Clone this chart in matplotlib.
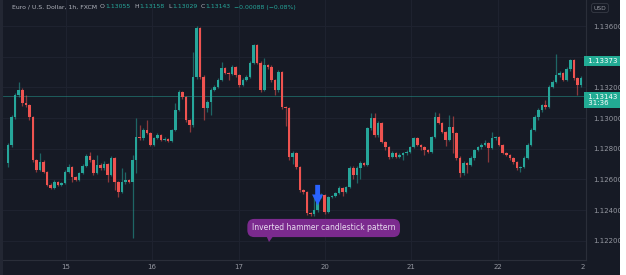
import matplotlib
matplotlib.use('Agg')
import matplotlib.pyplot as plt
from matplotlib.patches import Rectangle, Polygon
import matplotlib.transforms as mtransforms
import numpy as np

# EUR/USD 1h candles
opens = [1.12708, 1.12825, 1.13007, 1.13150, 1.13183, 1.13099, 1.13085, 1.13007, 1.12727, 1.12662,
         1.12714, 1.12649, 1.12564, 1.12545, 1.12584, 1.12564, 1.12577, 1.12649, 1.12681, 1.12616,
         1.12597, 1.12642, 1.12688, 1.12753, 1.12727, 1.12642, 1.12694, 1.12675, 1.12701, 1.12629,
         1.12740, 1.12584, 1.12519, 1.12584, 1.12597, 1.12584, 1.12727, 1.12877, 1.12870, 1.12922,
         1.12903, 1.12825, 1.12870, 1.12890, 1.12857, 1.12864, 1.12851, 1.12922, 1.13053, 1.13170,
         1.13137, 1.12988, 1.12955, 1.13268, 1.13587, 1.13268, 1.13065, 1.13105, 1.13183, 1.13203,
         1.13248, 1.13326, 1.13294, 1.13287, 1.13333, 1.13281, 1.13216, 1.13248, 1.13268, 1.13359,
         1.13476, 1.13359, 1.13183, 1.13346, 1.13333, 1.13248, 1.13183, 1.13300, 1.13072, 1.13065,
         1.12747, 1.12773, 1.12681, 1.12532, 1.12519, 1.12381, 1.12375, 1.12401, 1.12486, 1.12499,
         1.12388, 1.12486, 1.12493, 1.12512, 1.12545, 1.12519, 1.12551, 1.12675, 1.12629, 1.12675,
         1.12708, 1.12694, 1.12935, 1.13001, 1.12890, 1.12968, 1.12844, 1.12812, 1.12747, 1.12773,
         1.12747, 1.12760, 1.12773, 1.12779, 1.12812, 1.12870, 1.12825, 1.12812, 1.12792, 1.12779,
         1.12877, 1.13007, 1.12968, 1.12909, 1.12857, 1.12942, 1.12903, 1.12740, 1.12642, 1.12708,
         1.12694, 1.12740, 1.12792, 1.12812, 1.12825, 1.12838, 1.12805, 1.12870, 1.12875, 1.12825,
         1.12773, 1.12760, 1.12740, 1.12714, 1.12675, 1.12681, 1.12740, 1.12825, 1.12922, 1.13007,
         1.13053, 1.13085, 1.13072, 1.13203, 1.13235, 1.13281, 1.13294, 1.13248, 1.13320, 1.13379,
         1.13261, 1.13216]
closes = [1.12825, 1.13007, 1.13150, 1.13183, 1.13099, 1.13085, 1.13007, 1.12727, 1.12662, 1.12714,
          1.12649, 1.12564, 1.12545, 1.12584, 1.12564, 1.12577, 1.12649, 1.12681, 1.12616, 1.12597,
          1.12642, 1.12688, 1.12753, 1.12727, 1.12642, 1.12694, 1.12675, 1.12701, 1.12629, 1.12740,
          1.12584, 1.12519, 1.12584, 1.12597, 1.12584, 1.12727, 1.12877, 1.12870, 1.12922, 1.12903,
          1.12825, 1.12870, 1.12890, 1.12857, 1.12864, 1.12851, 1.12922, 1.13053, 1.13170, 1.13137,
          1.12988, 1.12955, 1.13268, 1.13587, 1.13268, 1.13065, 1.13105, 1.13183, 1.13203, 1.13248,
          1.13326, 1.13294, 1.13287, 1.13333, 1.13281, 1.13216, 1.13248, 1.13268, 1.13359, 1.13476,
          1.13359, 1.13183, 1.13346, 1.13333, 1.13248, 1.13183, 1.13300, 1.13072, 1.13065, 1.12747,
          1.12773, 1.12681, 1.12532, 1.12519, 1.12381, 1.12375, 1.12401, 1.12486, 1.12499, 1.12388,
          1.12486, 1.12493, 1.12512, 1.12545, 1.12519, 1.12551, 1.12675, 1.12629, 1.12675, 1.12708,
          1.12694, 1.12935, 1.13001, 1.12890, 1.12968, 1.12844, 1.12812, 1.12747, 1.12773, 1.12747,
          1.12760, 1.12773, 1.12779, 1.12812, 1.12870, 1.12825, 1.12812, 1.12792, 1.12779, 1.12877,
          1.13007, 1.12968, 1.12909, 1.12857, 1.12942, 1.12903, 1.12740, 1.12642, 1.12708, 1.12694,
          1.12740, 1.12792, 1.12812, 1.12825, 1.12838, 1.12805, 1.12870, 1.12875, 1.12825, 1.12773,
          1.12760, 1.12740, 1.12714, 1.12675, 1.12681, 1.12740, 1.12825, 1.12922, 1.13007, 1.13053,
          1.13085, 1.13072, 1.13203, 1.13235, 1.13281, 1.13294, 1.13248, 1.13320, 1.13379, 1.13261,
          1.13216, 1.13261]
highs = [1.12840, 1.13020, 1.13165, 1.13235, 1.13195, 1.13150, 1.13095, 1.13015, 1.12735, 1.12773,
         1.12725, 1.12655, 1.12575, 1.12595, 1.12592, 1.12585, 1.12660, 1.12700, 1.12690, 1.12625,
         1.12650, 1.12700, 1.12766, 1.12779, 1.12735, 1.12760, 1.12705, 1.12720, 1.12710, 1.12753,
         1.12748, 1.12590, 1.12675, 1.12650, 1.12605, 1.12760, 1.13001, 1.12955, 1.12935, 1.12988,
         1.12910, 1.12880, 1.12900, 1.12898, 1.12875, 1.12870, 1.12930, 1.13099, 1.13180, 1.13178,
         1.13145, 1.12995, 1.13431, 1.13600, 1.13595, 1.13280, 1.13115, 1.13195, 1.13215, 1.13260,
         1.13366, 1.13335, 1.13300, 1.13345, 1.13340, 1.13290, 1.13260, 1.13280, 1.13370, 1.13485,
         1.13484, 1.13370, 1.13392, 1.13355, 1.13345, 1.13255, 1.13315, 1.13310, 1.13080, 1.13075,
         1.12785, 1.12780, 1.12690, 1.12540, 1.12525, 1.12390, 1.12499, 1.12495, 1.12510, 1.12505,
         1.12495, 1.12500, 1.12520, 1.12555, 1.12552, 1.12560, 1.12690, 1.12685, 1.12685, 1.12720,
         1.12715, 1.12945, 1.13033, 1.13033, 1.12980, 1.12975, 1.12850, 1.12820, 1.12785, 1.12780,
         1.12770, 1.12782, 1.12790, 1.12820, 1.12880, 1.12878, 1.12832, 1.12820, 1.12800, 1.12885,
         1.13040, 1.13033, 1.12975, 1.12915, 1.13020, 1.13014, 1.12910, 1.12750, 1.12720, 1.12715,
         1.12750, 1.12800, 1.12820, 1.12835, 1.12860, 1.12845, 1.12909, 1.12885, 1.12882, 1.12832,
         1.12780, 1.12768, 1.12748, 1.12720, 1.12690, 1.12750, 1.12835, 1.12935, 1.13020, 1.13065,
         1.13095, 1.13118, 1.13215, 1.13245, 1.13418, 1.13305, 1.13300, 1.13330, 1.13385, 1.13385,
         1.13270, 1.13275]
lows = [1.12680, 1.12810, 1.12995, 1.13140, 1.13080, 1.13070, 1.12990, 1.12715, 1.12649, 1.12655,
        1.12640, 1.12555, 1.12535, 1.12538, 1.12555, 1.12558, 1.12570, 1.12640, 1.12584, 1.12588,
        1.12590, 1.12635, 1.12680, 1.12715, 1.12630, 1.12635, 1.12665, 1.12660, 1.12584, 1.12620,
        1.12532, 1.12486, 1.12510, 1.12570, 1.12575, 1.12219, 1.12642, 1.12855, 1.12860, 1.12895,
        1.12815, 1.12818, 1.12862, 1.12848, 1.12850, 1.12843, 1.12845, 1.12915, 1.13045, 1.13125,
        1.12975, 1.12909, 1.12945, 1.13255, 1.13255, 1.12988, 1.13040, 1.13020, 1.13175, 1.13195,
        1.13240, 1.13285, 1.13250, 1.13280, 1.13270, 1.13205, 1.13208, 1.13240, 1.13260, 1.13350,
        1.13350, 1.13170, 1.13175, 1.13320, 1.13235, 1.13150, 1.13170, 1.13060, 1.12950, 1.12727,
        1.12700, 1.12670, 1.12520, 1.12505, 1.12369, 1.12362, 1.12365, 1.12390, 1.12478, 1.12378,
        1.12380, 1.12478, 1.12485, 1.12505, 1.12490, 1.12510, 1.12545, 1.12600, 1.12577, 1.12600,
        1.12685, 1.12688, 1.12925, 1.12880, 1.12880, 1.12835, 1.12790, 1.12735, 1.12740, 1.12738,
        1.12740, 1.12730, 1.12760, 1.12770, 1.12805, 1.12815, 1.12790, 1.12760, 1.12770, 1.12770,
        1.12870, 1.12960, 1.12900, 1.12820, 1.12850, 1.12773, 1.12730, 1.12616, 1.12630, 1.12640,
        1.12685, 1.12730, 1.12785, 1.12800, 1.12815, 1.12714, 1.12798, 1.12860, 1.12815, 1.12765,
        1.12750, 1.12730, 1.12700, 1.12660, 1.12649, 1.12672, 1.12732, 1.12815, 1.12915, 1.12990,
        1.13040, 1.13060, 1.13065, 1.13195, 1.13228, 1.13270, 1.13240, 1.13240, 1.13310, 1.13250,
        1.13150, 1.13205]

day_labels = ['15', '16', '17', '20', '21', '22', '2']
price_ticks = [1.122, 1.124, 1.126, 1.128, 1.130, 1.132, 1.134, 1.136]
last_price = 1.13143
marker_price = 1.13373
hammer_idx = 86

BG = '#161a25'
GRID = '#1f2330'
UP = '#26a69a'
DOWN = '#ef5350'
TXT = '#9598a1'

W, H = 626, 275
fig = plt.figure(figsize=(W / 100, H / 100), dpi=100)
fig.patch.set_facecolor(BG)
fig.patches.append(Rectangle((620 / W, 0), 6 / W, 1, transform=fig.transFigure,
                             facecolor='white', edgecolor='none', zorder=10))
fig.patches.append(Rectangle((0, 0), 3 / W, 1, transform=fig.transFigure,
                             facecolor='#232733', edgecolor='none'))

ax = fig.add_axes([3 / W, 15 / H, 583 / W, 260 / H])
ax.set_facecolor(BG)

n = len(closes)
x = np.arange(n)
step = 573 / (n - 1)  # px per candle
ax.set_xlim(-5 / step, 578 / step)
ax.set_ylim(1.120755, 1.137694)

o = np.array(opens); c = np.array(closes)
hi = np.array(highs); lo = np.array(lows)
up = c >= o
cols = np.where(up, UP, DOWN)

ax.vlines(x, lo, hi, colors=cols, linewidth=0.9, alpha=0.55, zorder=3)
body_lo = np.minimum(o, c)
body_h = np.maximum(np.abs(c - o), 0.00003)
ax.bar(x, body_h, bottom=body_lo, width=0.72, color=cols, linewidth=0, zorder=4)

# grid
for p in price_ticks:
    ax.axhline(p, color=GRID, linewidth=0.7, zorder=1)
day_px = [66, 152, 239, 325, 411, 498, 583]
day_pos = [(d - 8) / step for d in day_px]
for d in day_pos[:-1]:
    ax.axvline(d, color=GRID, linewidth=0.7, zorder=1)

ax.axhline(last_price, color=UP, linewidth=0.6, alpha=0.55, zorder=2)

for s in ['top', 'left']:
    ax.spines[s].set_visible(False)
for s in ['right', 'bottom']:
    ax.spines[s].set_color('#2a2e39')
    ax.spines[s].set_linewidth(0.8)

ax.yaxis.tick_right()
ax.set_yticks(price_ticks)
# 1.13400 sits under the price tag
ax.set_yticklabels(['' if abs(p - 1.134) < 1e-9 else f'{p:.5f}' for p in price_ticks])
ax.tick_params(axis='y', length=0, pad=5, labelsize=5, labelcolor=TXT)
ax.set_xticks(day_pos)
ax.set_xticklabels(day_labels)
ax.tick_params(axis='x', length=0, pad=3, labelsize=5, labelcolor=TXT)

# price tags on the axis
tr = mtransforms.blended_transform_factory(ax.transAxes, ax.transData)
ax.text(1.0, marker_price, ' 1.13373  ', transform=tr, fontsize=5, color='white',
        va='center', ha='left', clip_on=False, zorder=6,
        bbox=dict(boxstyle='square,pad=0.3', facecolor='#22ab94', edgecolor='none'))
ax.text(1.0, last_price - 0.00025, ' 1.13143  \n 31:36', transform=tr, fontsize=5,
        color='white', va='center', ha='left', clip_on=False, zorder=6, linespacing=1.1,
        bbox=dict(boxstyle='square,pad=0.3', facecolor='#22ab94', edgecolor='none'))

# header, laid out piece by piece
def fx(px):
    return px / W

def fy(py):
    return 1 - py / H

renderer = fig.canvas.get_renderer()
header = [('Euro / U.S. Dollar, 1h, FXCM', '#b2b5be', 3),
          ('O', '#b2b5be', 0.5), ('1.13055', UP, 3.5),
          ('H', '#b2b5be', 0.5), ('1.13158', UP, 3.5),
          ('L', '#b2b5be', 0.5), ('1.13029', UP, 3.5),
          ('C', '#b2b5be', 0.5), ('1.13143', UP, 3.5),
          ('\u22120.00088 (\u22120.08%)', UP, 0)]
xpos = 12
for txt, col, gap in header:
    t = fig.text(fx(xpos), fy(7), txt, fontsize=4.4, color=col, va='center')
    xpos += t.get_window_extent(renderer).width + gap

fig.text(fx(600), fy(8), 'USD', fontsize=4.3, color=TXT, va='center', ha='center',
         bbox=dict(boxstyle='round,pad=0.35,rounding_size=0.4', facecolor=BG,
                   edgecolor='#363a45', linewidth=0.6))

# annotation
ax.annotate('', xy=(hammer_idx + 1, 1.12430), xytext=(hammer_idx + 1, 1.12565),
            arrowprops=dict(arrowstyle='simple,head_width=0.8,head_length=0.8,tail_width=0.35',
                            color='#2962ff', linewidth=0, shrinkA=0, shrinkB=0), zorder=7)
ax.text(hammer_idx + 2.7, 1.12284, 'Inverted hammer candlestick pattern', fontsize=5.5,
        color='#e8dcef', ha='center', va='center', zorder=8,
        bbox=dict(boxstyle='round,pad=0.6,rounding_size=0.9', facecolor='#7b2a8e', edgecolor='none'))
tail = Polygon([(fx(266), fy(235)), (fx(274), fy(235)), (fx(269), fy(242))],
               closed=True, transform=fig.transFigure, facecolor='#7b2a8e', edgecolor='none')
fig.patches.append(tail)

fig.savefig('out.png', dpi=100, facecolor=fig.get_facecolor())
